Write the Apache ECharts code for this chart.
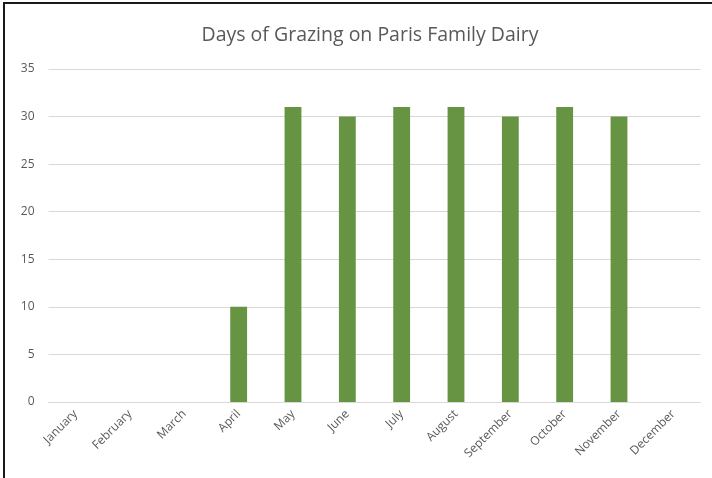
<!DOCTYPE html>
<html><head><meta charset="utf-8">
<script src="https://cdn.jsdelivr.net/npm/echarts@6/dist/echarts.min.js"></script>
<style>
html,body{margin:0;padding:0;background:#fff;overflow:hidden;}
#frame{position:absolute;left:3px;top:2px;width:720px;height:490px;border-left:2px solid #1a1a1a;border-top:2px solid #1a1a1a;box-sizing:border-box;}
#c{position:absolute;left:0;top:0;width:712px;height:478px;}
</style></head>
<body>
<div id="frame"></div>
<div id="c"></div>
<script>
const titleText = "Days of Grazing on Paris Family Dairy";
const months = ["January","February","March","April","May","June","July","August","September","October","November","December"];
const grazingDays = [0,0,0,10,31,30,31,31,30,31,30,0];
const yTicks = {min:0,max:35,interval:5};

const chart = echarts.init(document.getElementById('c'), null, {renderer:'canvas'});
chart.setOption({
  backgroundColor:'transparent',
  animation:false,
  title:{text:titleText,left:365,textAlign:'center',top:20,
    textStyle:{fontFamily:'Open Sans',fontSize:19.5,fontWeight:'normal',color:'#595959'}},
  grid:{left:48.5,right:11.5,top:69,bottom:76},
  xAxis:{type:'category',data:months,
    axisLine:{lineStyle:{color:'#d9d9d9'}},axisTick:{show:false},
    axisLabel:{rotate:45,color:'#595959',fontFamily:'Open Sans',fontSize:12,interval:0,margin:10}},
  yAxis:{type:'value',min:yTicks.min,max:yTicks.max,interval:yTicks.interval,
    axisLine:{show:false},axisTick:{show:false},
    splitLine:{lineStyle:{color:'#d9d9d9'}},
    axisLabel:{color:'#595959',fontFamily:'Open Sans',fontSize:12,margin:14}},
  series:[{type:'bar',data:grazingDays,barWidth:'31%',
    itemStyle:{color:'#669443'}}]
});
</script>
</body></html>
